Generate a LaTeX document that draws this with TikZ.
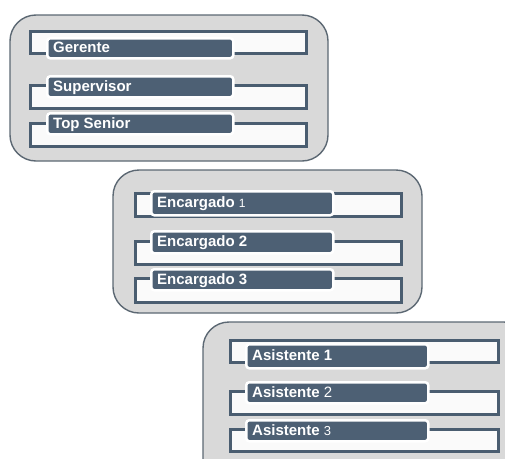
\documentclass[tikz,border=0pt]{standalone}
\usepackage{fontspec}
\setmainfont{Liberation Sans}
\definecolor{panelfill}{HTML}{D9D9D9}
\definecolor{panelline}{HTML}{5C6873}
\definecolor{slate}{HTML}{4D6074}
\definecolor{slateline}{HTML}{4A5D70}
\definecolor{boxfill}{HTML}{FAFAFA}
\tikzset{
  panel/.style={draw=panelline, line width=1.4pt, fill=panelfill, rounded corners=26pt},
  slot/.style={draw=slateline, line width=3pt, fill=boxfill},
  tag/.style={draw=white, line width=2.5pt, fill=slate, rounded corners=3pt},
  tagtext/.style={anchor=base west, inner sep=0pt, text=white,
    font=\fontsize{15}{15}\selectfont\bfseries},
}
% a slot (outline bar) plus its label tag:
% #1 name, #2 slot x1, #3 slot y1, #4 slot x2, #5 slot y2,
% #6 tag x1, #7 tag y1, #8 tag x2, #9 tag y2, then text
\newcommand{\slotitem}[9]{%
  \node[slot, inner sep=0pt, anchor=north west, minimum width=#4-#2, minimum height=#5-#3]
    (#1-slot) at (#2,#3) {};
  \node[tag, inner sep=0pt, anchor=north west, minimum width=#8-#6, minimum height=#9-#7]
    (#1) at (#6,#7) {};
  \slotlabel{#1}}
\newcommand{\slotlabel}[2]{%
  \node[tagtext] (#1-text) at ([xshift=7pt, yshift=-4.5pt]#1.west) {#2};}
\begin{document}
\begin{tikzpicture}[x=1pt, y=-1pt]
  \useasboundingbox (0,0) rectangle (505,458);
  \clip (0,0) rectangle (505,458);

  % upper panel
  \draw[panel] (10,15) rectangle (328,161);
  \slotitem{gerente}{29}{30}{305}{52}{46}{37}{232}{57}{Gerente}
  \slotitem{supervisor}{29}{84}{305}{107}{46}{75}{232}{96}{Supervisor}
  \slotitem{topsenior}{29}{122}{305}{145}{46}{112}{232}{133}{Top Senior}

  % middle panel
  \draw[panel] (113,170) rectangle (422,313);
  \slotitem{enc1}{134}{192}{400}{215}{150}{190}{332}{214}{Encargado {\mdseries\fontsize{12}{12}\selectfont 1}}
  \slotitem{enc2}{134}{240}{400}{263}{150}{230}{332}{252}{Encargado 2}
  \slotitem{enc3}{134}{277}{400}{301}{150}{268}{332}{289}{Encargado 3}

  % lower panel
  \draw[panel] (203,322) rectangle (530,490);
  \slotitem{asi1}{229}{339}{497}{361}{245}{343}{427}{367}{Asistente 1}
  \slotitem{asi2}{229}{390}{497}{413}{245}{381}{427}{402}{Asistente {\mdseries 2}}
  \slotitem{asi3}{229}{428}{497}{450}{245}{419}{427}{440}{Asistente {\mdseries\fontsize{13}{13}\selectfont 3}}
\end{tikzpicture}
\end{document}
